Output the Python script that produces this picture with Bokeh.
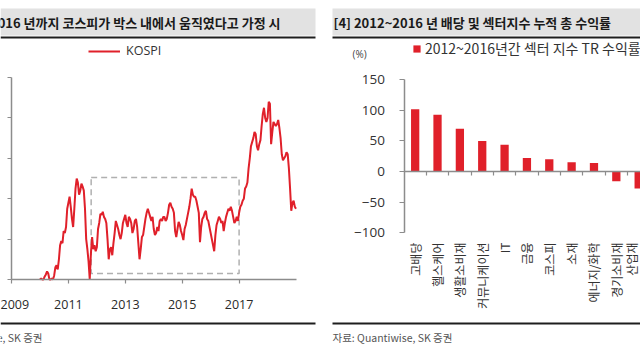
from math import pi
from bokeh.plotting import figure
from bokeh.models import (BoxAnnotation, Label, Legend, LegendItem, FixedTicker,
                          Range1d, LinearAxis)
from bokeh.embed import file_html
from bokeh.resources import INLINE

# ---------------- data ----------------
# KOSPI, two readings per month (line hugs the axis floor at 1700)
kospi_2010 = [1700, 1705, 1700, 1700, 1715, 1725, 1740, 1730, 1700, 1700, 1705, 1700,
              1720, 1760, 1770, 1750, 1800, 1870, 1890, 1880, 1940, 1930, 1960, 2050]
kospi_2011 = [2080, 2110, 2060, 2000, 1960, 2050, 2150, 2200, 2180, 2120, 2140, 2175,
              2160, 2140, 2050, 1900, 1850, 1790, 1700, 1830, 1910, 1850, 1870, 1840]
kospi_2012 = [1860, 1950, 1980, 2025, 2020, 2035, 2010, 2000, 1980, 1900, 1800, 1850,
              1860, 1820, 1880, 1930, 1990, 1970, 1950, 1920, 1900, 1930, 1980, 2000]
kospi_2013 = [2020, 1980, 1960, 2010, 2000, 1980, 1930, 1950, 1990, 2000, 1960, 1880,
              1800, 1850, 1910, 1920, 1960, 2000, 2030, 2050, 2030, 2010, 1990, 2010]
kospi_2014 = [1950, 1920, 1930, 1960, 1940, 1990, 2000, 1990, 2010, 2010, 1990, 2000,
              2030, 2070, 2080, 2060, 2050, 2030, 1940, 1910, 1950, 1985, 1970, 1940]
kospi_2015 = [1920, 1895, 1950, 1970, 2000, 2030, 2060, 2100, 2150, 2120, 2110, 2110,
              2090, 2060, 2030, 1885, 1960, 2000, 2010, 2030, 2040, 2000, 1990, 1960]
kospi_2016 = [1930, 1900, 1870, 1840, 1920, 1970, 1990, 2010, 2000, 1980, 1990, 1940,
              1980, 2010, 2030, 2050, 2040, 2060, 2040, 2010, 1980, 1990, 2010, 1990]
kospi_2017 = [2030, 2060, 2070, 2090, 2100, 2150, 2160, 2180, 2250, 2300, 2360, 2380,
              2400, 2430, 2420, 2360, 2340, 2370, 2390, 2460, 2520, 2550, 2500, 2480]
kospi_2018 = [2500, 2580, 2570, 2370, 2430, 2480, 2470, 2460, 2470, 2490, 2450, 2400,
              2320, 2290, 2300, 2310, 2330, 2320, 2250, 2150, 2040, 2080, 2090, 2060]
kospi_2019 = [2050]
kospi_years = [2010, 2011, 2012, 2013, 2014, 2015, 2016, 2017, 2018, 2019]
kospi_series = [kospi_2010, kospi_2011, kospi_2012, kospi_2013, kospi_2014,
                kospi_2015, kospi_2016, kospi_2017, kospi_2018, kospi_2019]
readings_per_year = 24

year_ticks = [2009, 2011, 2013, 2015, 2017]
kospi_y_ticks = [1700, 1900, 2100, 2300, 2500, 2700]
kospi_axis_x = [2009, 2019]
kospi_axis_y = [1700, 2700]

# assumed box (2012~2016)
box_start = [2011.8]
box_end = [2017.0]
box_low = [1730]
box_high = [2205]

# right chart
sectors = ["고배당", "헬스케어", "생활소비재", "커뮤니케이션", "IT", "금융",
           "코스피", "소재", "에너지/화학", "경기소비재", "산업재"]
sector_returns = [102, 93, 70, 50, 44, 22, 20, 15, 14, -16, -28]
return_ticks = [-100, -50, 0, 50, 100, 150]

left_title = "[3] 2012~2016 년까지 코스피가 박스 내에서 움직였다고 가정 시"
right_title = "[4] 2012~2016 년 배당 및 섹터지수 누적 총 수익률"
source_text = "자료: Quantiwise, SK 증권"
legend_left = "KOSPI"
legend_right = "2012~2016년간 섹터 지수 TR 수익률"
unit_text = "(%)"

# ---------------- styles / layout ----------------
W, H = 640, 360
KR = "Noto Sans CJK KR"
NUM = "Open Sans"
RED = "#e0202a"
AXIS = "#8c8c8c"
HEAD_BG = "#e2e2e2"
RULE = "#1e1e1e"

# pixel geometry of the two plot areas (page coordinates, top-left origin)
L_X0, L_PX_PER_YEAR = 11.0, 28.45          # x of year 2009, px per year
L_Y0, L_PX_PER_UNIT = 279.0, 0.202         # y of 1700, px per index point
R_X0, R_PX_PER_CAT = 403.5, 22.35          # x of category -0.5, px per category
R_Y0, R_PX_PER_PCT = 171.0, 0.6104         # y of 0 %, px per percent

kospi_t = []
kospi_v = []
for yr, vals in zip(kospi_years, kospi_series):
    for i, v in enumerate(vals):
        kospi_t.append(yr + i / readings_per_year)
        kospi_v.append(v)

x_left = Range1d(year_ticks[0] - L_X0 / L_PX_PER_YEAR,
                 year_ticks[0] + (W - L_X0) / L_PX_PER_YEAR)
y_left = Range1d(kospi_y_ticks[0] - (H - L_Y0) / L_PX_PER_UNIT,
                 kospi_y_ticks[0] + L_Y0 / L_PX_PER_UNIT)
x_right = Range1d(-0.5 - R_X0 / R_PX_PER_CAT, -0.5 + (W - R_X0) / R_PX_PER_CAT)
y_right = Range1d(-(H - R_Y0) / R_PX_PER_PCT, R_Y0 / R_PX_PER_PCT)

p = figure(width=W, height=H, output_backend="svg", toolbar_location=None,
           x_range=x_left, y_range=y_left, x_axis_type=None, y_axis_type=None,
           min_border_left=0, min_border_right=0, min_border_top=0,
           min_border_bottom=0)
p.outline_line_color = None
p.extra_x_ranges = {"cat": x_right}
p.extra_y_ranges = {"pct": y_right}


def box(x0, x1, y0, y1, color):
    p.add_layout(BoxAnnotation(left=x0, right=x1, bottom=H - y1, top=H - y0,
                               left_units="screen", right_units="screen",
                               bottom_units="screen", top_units="screen",
                               fill_color=color, fill_alpha=1.0, line_color=None))


def label(x, y, text, size, color, align="left", bold=False, font=KR):
    p.add_layout(Label(x=x, y=H - y, x_units="screen", y_units="screen", text=text,
                       text_align=align, text_baseline="middle", text_font=font,
                       text_font_size=size, text_color=color,
                       text_font_style="bold" if bold else "normal"))


def style_axis(ax, tick_out):
    ax.axis_line_color = AXIS
    ax.axis_line_width = 1.5
    ax.major_tick_line_color = AXIS
    ax.major_tick_line_width = 1.2
    ax.major_tick_in = 0
    ax.major_tick_out = tick_out
    ax.minor_tick_line_color = None


# ---- headers / footers ----
box(0, 315, 8, 35, HEAD_BG)
box(0, 315, 36, 38, RULE)
box(332, W, 8, 35, HEAD_BG)
box(332, W, 36, 38, RULE)
box(0, 315, 322, 324, RULE)
box(332, W, 322, 324, RULE)
label(280, 22, left_title, "13px", "#1a1a1a", align="right", bold=True)
label(333, 22, right_title, "13px", "#1a1a1a", bold=True)
label(42, 337, source_text, "10.5px", "#555555", align="right")
label(332, 337, source_text, "10.5px", "#555555")
label(352, 53, unit_text, "10px", "#444444", font=NUM)

# ---- left chart ----
ax = LinearAxis(fixed_location=kospi_y_ticks[0], bounds=tuple(kospi_axis_x),
                ticker=FixedTicker(ticks=year_ticks))
style_axis(ax, 4)
ax.major_label_text_font = NUM
ax.major_label_text_font_size = "12.5px"
ax.major_label_text_color = "#2a2a2a"
ax.major_label_standoff = 16
p.add_layout(ax, "below")

ay = LinearAxis(fixed_location=year_ticks[0], bounds=tuple(kospi_axis_y),
                ticker=FixedTicker(ticks=kospi_y_ticks))
style_axis(ay, 4)
ay.major_label_text_color = None
p.add_layout(ay, "left")

p.quad(left=box_start, right=box_end, bottom=box_low, top=box_high,
       fill_color=None, line_color="#b0b0b0", line_width=1.5, line_dash="6 4")
kline = p.line(kospi_t, kospi_v, line_color=RED, line_width=2)

p.add_layout(Legend(items=[LegendItem(label=legend_left, renderers=[kline])],
                    location=(88, H - 59), glyph_width=32, glyph_height=12,
                    label_height=12, label_standoff=6, padding=0, margin=0,
                    border_line_color=None, background_fill_alpha=0,
                    label_text_font=NUM, label_text_font_size="12.5px",
                    label_text_color="#333333"))

# ---- right chart ----
idx = list(range(len(sectors)))
sep = [i + 0.5 for i in idx]
bars = p.vbar(x=idx, top=sector_returns, width=0.37, fill_color=RED,
              line_color=None, x_range_name="cat", y_range_name="pct")

az = LinearAxis(x_range_name="cat", y_range_name="pct", fixed_location=0,
                bounds=(-0.5, x_right.end), ticker=FixedTicker(ticks=sep))
style_axis(az, 4)
az.major_label_text_color = None
p.add_layout(az, "below")

ac = LinearAxis(x_range_name="cat", y_range_name="pct", fixed_location=return_ticks[0],
                ticker=FixedTicker(ticks=idx))
ac.major_label_overrides = {i: s for i, s in zip(idx, sectors)}
ac.major_label_orientation = pi / 2
ac.axis_line_color = None
ac.major_tick_line_color = None
ac.minor_tick_line_color = None
ac.major_tick_out = 0
ac.major_tick_in = 0
ac.major_label_standoff = 10
ac.major_label_text_font = KR
ac.major_label_text_font_size = "12px"
ac.major_label_text_color = "#333333"
p.add_layout(ac, "below")

ar = LinearAxis(x_range_name="cat", y_range_name="pct", fixed_location=-0.5,
                bounds=(return_ticks[0], return_ticks[-1]),
                ticker=FixedTicker(ticks=return_ticks))
style_axis(ar, 5)
ar.major_label_standoff = 14
ar.major_label_text_font = NUM
ar.major_label_text_font_size = "13.5px"
ar.major_label_text_color = "#333333"
p.add_layout(ar, "left")

p.add_layout(Legend(items=[LegendItem(label=legend_right, renderers=[bars])],
                    location=(412, H - 58), glyph_width=9, glyph_height=9,
                    label_height=9, label_standoff=4, padding=0, margin=0,
                    border_line_color=None, background_fill_alpha=0,
                    label_text_font=KR, label_text_font_size="14px",
                    label_text_color="#333333"))

open("out.html", "w").write(file_html(p, INLINE))
